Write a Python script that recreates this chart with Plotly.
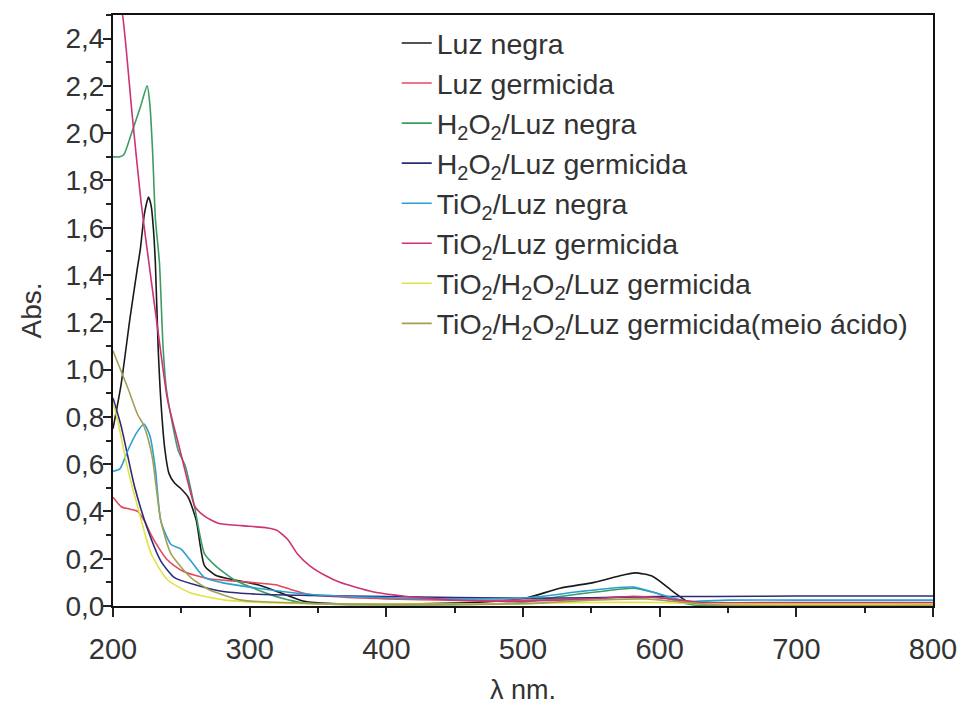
import plotly.graph_objects as go

# ---- data ----
names = [
    "Luz negra",
    "Luz germicida",
    "H<sub>2</sub>O<sub>2</sub>/Luz negra",
    "H<sub>2</sub>O<sub>2</sub>/Luz germicida",
    "TiO<sub>2</sub>/Luz negra",
    "TiO<sub>2</sub>/Luz germicida",
    "TiO<sub>2</sub>/H<sub>2</sub>O<sub>2</sub>/Luz germicida",
    "TiO<sub>2</sub>/H<sub>2</sub>O<sub>2</sub>/Luz germicida(meio ácido)",
]
colors = ["#1a1a1a", "#e4485e", "#3c9c62", "#2c2c78", "#2a9fd2", "#cc3374", "#e2e244", "#a3a055"]

x_luz_negra = [200, 206, 212.5, 217.6, 220, 223, 226, 228, 229.5, 231, 233, 235, 238, 241, 245, 249, 255, 261, 264, 267, 275, 289, 306, 323, 340, 360, 400, 450, 480, 503, 527, 552, 569, 582, 595, 610, 620, 635, 700, 800]
y_luz_negra = [0.75, 0.94, 1.22, 1.42, 1.51, 1.66, 1.73, 1.69, 1.60, 1.45, 1.10, 0.87, 0.66, 0.56, 0.52, 0.50, 0.46, 0.36, 0.25, 0.17, 0.13, 0.11, 0.09, 0.055, 0.02, 0.01, 0.008, 0.012, 0.02, 0.035, 0.075, 0.10, 0.125, 0.14, 0.125, 0.06, 0.02, 0.008, 0.005, 0.005]

x_luz_germ = [200, 206, 212, 218, 223, 228, 233, 239, 245, 252, 260, 270, 279, 290, 301, 319, 330, 343, 360, 400, 450, 500, 550, 580, 600, 620, 650, 700, 800]
y_luz_germ = [0.46, 0.42, 0.41, 0.40, 0.36, 0.30, 0.25, 0.20, 0.17, 0.145, 0.13, 0.115, 0.11, 0.105, 0.10, 0.09, 0.07, 0.05, 0.04, 0.03, 0.025, 0.025, 0.03, 0.04, 0.035, 0.02, 0.012, 0.01, 0.01]

x_h2o2_negra = [200, 205, 208, 213, 220, 225, 227, 229, 231, 234, 236.6, 239, 242.5, 247.6, 253, 260, 267, 275, 289, 306, 323, 340, 380, 450, 500, 527, 555, 581, 600, 612, 625, 700, 800]
y_h2o2_negra = [1.90, 1.90, 1.91, 1.99, 2.11, 2.20, 2.12, 1.92, 1.64, 1.45, 1.10, 0.92, 0.80, 0.66, 0.59, 0.41, 0.22, 0.17, 0.11, 0.068, 0.034, 0.013, 0.005, 0.005, 0.015, 0.04, 0.06, 0.075, 0.05, 0.02, 0.004, 0.004, 0.004]

x_h2o2_germ = [200, 206, 216, 225.6, 235, 245, 260, 282, 306, 343, 400, 500, 550, 600, 640, 700, 800]
y_h2o2_germ = [0.88, 0.76, 0.50, 0.32, 0.19, 0.12, 0.09, 0.06, 0.05, 0.045, 0.04, 0.033, 0.035, 0.04, 0.04, 0.042, 0.042]

x_tio2_negra = [200, 205, 211, 217, 222.7, 227, 231, 235, 242.5, 250, 257, 267, 279, 300, 343, 400, 450, 503, 540, 564, 581, 600, 620, 650, 700, 800]
y_tio2_negra = [0.57, 0.58, 0.66, 0.73, 0.77, 0.72, 0.58, 0.36, 0.26, 0.24, 0.19, 0.12, 0.10, 0.08, 0.05, 0.035, 0.03, 0.035, 0.06, 0.075, 0.08, 0.05, 0.02, 0.025, 0.025, 0.025]

x_tio2_germ = [200, 207, 214, 220.5, 227, 233, 240, 249, 255, 260, 267, 277, 294, 313, 320, 328, 335, 344, 355, 366, 390, 415, 440, 476, 500, 550, 580, 600, 630, 700, 800]
y_tio2_germ = [2.70, 2.50, 2.08, 1.71, 1.42, 1.16, 0.87, 0.66, 0.52, 0.42, 0.38, 0.35, 0.34, 0.33, 0.32, 0.28, 0.22, 0.17, 0.13, 0.10, 0.06, 0.04, 0.028, 0.02, 0.02, 0.03, 0.04, 0.035, 0.015, 0.015, 0.015]

x_tio2_h2o2 = [200, 204, 210, 218, 228, 240, 257, 282, 319, 400, 500, 550, 600, 640, 800]
y_tio2_h2o2 = [0.86, 0.77, 0.60, 0.42, 0.22, 0.11, 0.055, 0.025, 0.013, 0.008, 0.01, 0.015, 0.015, 0.008, 0.008]

x_tio2_h2o2_acid = [200, 202, 211, 218, 222, 226, 229, 235, 242.5, 257, 270, 294, 350, 400, 500, 550, 590, 610, 640, 800]
y_tio2_h2o2_acid = [1.08, 1.05, 0.92, 0.81, 0.77, 0.70, 0.62, 0.36, 0.22, 0.12, 0.07, 0.025, 0.01, 0.005, 0.01, 0.025, 0.03, 0.02, 0.005, 0.003]

xs = [x_luz_negra, x_luz_germ, x_h2o2_negra, x_h2o2_germ, x_tio2_negra, x_tio2_germ, x_tio2_h2o2, x_tio2_h2o2_acid]
ys = [y_luz_negra, y_luz_germ, y_h2o2_negra, y_h2o2_germ, y_tio2_negra, y_tio2_germ, y_tio2_h2o2, y_tio2_h2o2_acid]

x_ticks = [200, 300, 400, 500, 600, 700, 800]
y_ticks = [0.0, 0.2, 0.4, 0.6, 0.8, 1.0, 1.2, 1.4, 1.6, 1.8, 2.0, 2.2, 2.4]

fig = go.Figure()
for n, c, x, y in zip(names, colors, xs, ys):
    fig.add_trace(go.Scatter(x=x, y=y, name=n, mode="lines",
                             line=dict(color=c, width=1.6, shape="spline", smoothing=0.6)))

font = "Liberation Sans, Arial, sans-serif"
fig.update_layout(
    width=962, height=708,
    margin=dict(l=113, r=29, t=15, b=102),
    paper_bgcolor="white", plot_bgcolor="white",
    separators=",.",
    font=dict(family=font, size=28, color="#333333"),
    showlegend=True,
    legend=dict(x=0.346, y=0.995, xanchor="left", yanchor="top",
                bgcolor="rgba(0,0,0,0)", tracegroupgap=0,
                font=dict(family=font, size=28.5, color="#333333")),
    xaxis=dict(range=[200, 800], tickvals=x_ticks, tickformat="d", automargin=False,
               ticks="outside", ticklen=9, tickwidth=1.5, tickcolor="#222",
               ticklabelstandoff=7,
               showline=True, linecolor="#111", linewidth=2, mirror=True,
               showgrid=False, zeroline=False,
               minor=dict(dtick=50, ticks="outside", ticklen=5, tickcolor="#222", showgrid=False),
               title=dict(text="λ nm.", font=dict(size=27), standoff=16),
               tickfont=dict(size=29)),
    yaxis=dict(range=[0, 2.5], tickvals=y_ticks, tickformat=".1f", automargin=False,
               ticks="outside", ticklen=8, tickwidth=1.5, tickcolor="#222",
               ticklabelstandoff=-7,
               showline=True, linecolor="#111", linewidth=2, mirror=True,
               showgrid=False, zeroline=False,
               minor=dict(dtick=0.1, ticks="outside", ticklen=5, tickcolor="#222", showgrid=False),
               title=dict(text="Abs.", font=dict(size=28), standoff=16),
               tickfont=dict(size=28)),
)

fig.write_html("out.html")
